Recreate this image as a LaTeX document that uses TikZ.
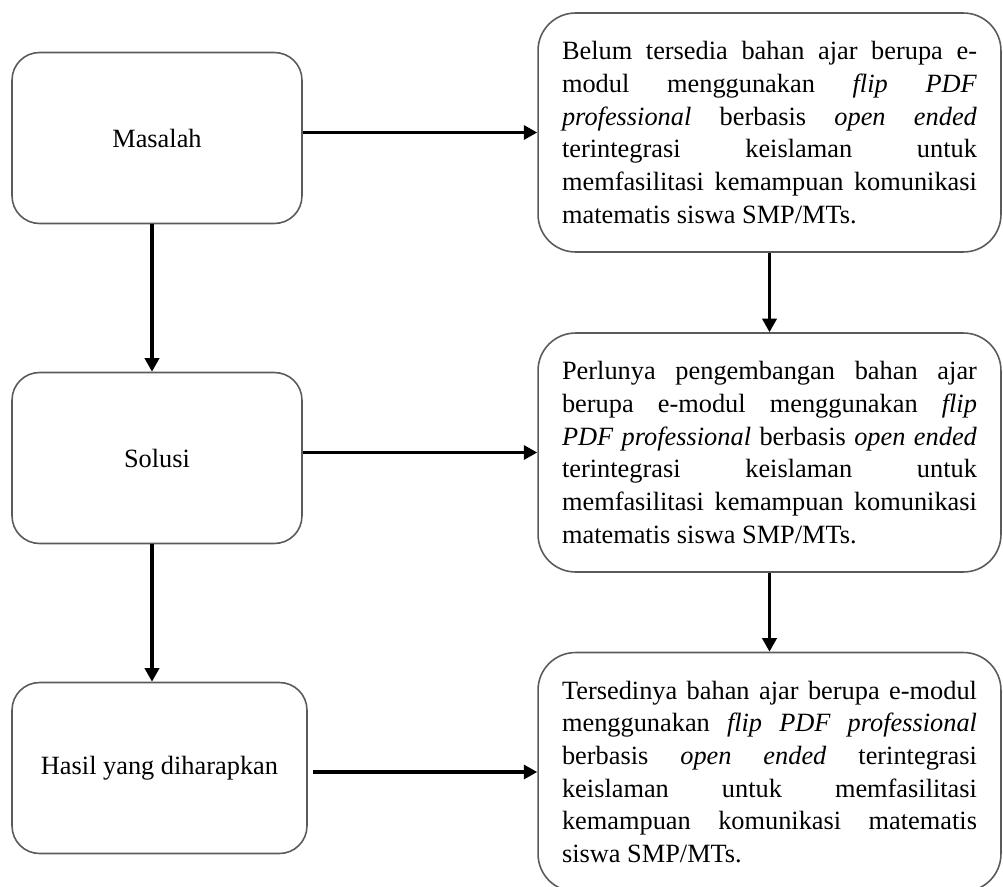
\documentclass[tikz,border=0pt]{standalone}
\usepackage{fontspec}
\setmainfont{Liberation Serif}
\usetikzlibrary{arrows.meta}

\definecolor{boxgray}{HTML}{5A5A5A}

\begin{document}
\begin{tikzpicture}[
    x=0.02cm, y=-0.02cm,
    txt/.style={font={\fontsize{15}{18.6}\selectfont\sloppy\hyphenpenalty=10000\exhyphenpenalty=10000}},
    leftbox/.style={txt, draw=boxgray, line width=0.9pt, rounded corners=0.55cm,
        minimum width=5.8cm, minimum height=3.42cm, inner sep=0pt, align=center},
    rightbox/.style={txt, draw=boxgray, line width=0.9pt, rounded corners=0.75cm,
        minimum width=9.26cm, minimum height=4.78cm, text width=8.3cm,
        inner sep=0pt, align=justify},
    arr/.style={-{Triangle[length=0.27cm, width=0.28cm]}, line width=2.2pt}
]

% Page
\useasboundingbox (0,0) rectangle (1003,886);
\clip (0,0) rectangle (1003,886);

% ============================================================
% Left column
% ============================================================

\node[leftbox] (masalah) at (157,138) {Masalah};
\node[leftbox] (solusi) at (157,458) {Solusi};
\node[leftbox, minimum width=5.9cm] (hasil) at (159.5,768) {Hasil yang diharapkan};

% ============================================================
% Right column
% ============================================================

\node[rightbox] (belum) at (769.5,132.5) {Belum tersedia bahan ajar berupa e-\linebreak
    modul menggunakan \textit{flip PDF}\linebreak
    \textit{professional} berbasis \textit{open ended}\linebreak
    terintegrasi keislaman untuk\linebreak
    memfasilitasi kemampuan komunikasi\linebreak
    matematis siswa SMP/MTs.};

\node[rightbox] (perlu) at (769.5,452.5) {Perlunya pengembangan bahan ajar\linebreak
    berupa e-modul menggunakan \textit{flip}\linebreak
    \textit{PDF professional} berbasis \textit{open ended}\linebreak
    terintegrasi keislaman untuk\linebreak
    memfasilitasi kemampuan komunikasi\linebreak
    matematis siswa SMP/MTs.};

\node[rightbox] (sedia) at (769.5,772) {Tersedinya bahan ajar berupa e-modul\linebreak
    menggunakan \textit{flip PDF professional}\linebreak
    berbasis \textit{open ended} terintegrasi\linebreak
    keislaman untuk memfasilitasi\linebreak
    kemampuan komunikasi matematis\linebreak
    siswa SMP/MTs.};

% ============================================================
% Arrows
% ============================================================

% Left column, downwards
\draw[arr] ([xshift=-0.1cm]masalah.south) -- ([xshift=-0.1cm]solusi.north);
\draw[arr] ([xshift=-0.1cm]solusi.south) -- ([xshift=-0.1cm]solusi.south |- hasil.north);

% Right column, downwards
\draw[arr] (belum.south) -- (perlu.north);
\draw[arr] (perlu.south) -- (sedia.north);

% Left to right
\draw[arr] (belum.west -| masalah.east) -- (belum.west);
\draw[arr] (perlu.west -| solusi.east) -- (perlu.west);
\draw[arr, shorten <=0.1cm] (sedia.west -| hasil.east) -- (sedia.west);
\end{tikzpicture}
\end{document}
